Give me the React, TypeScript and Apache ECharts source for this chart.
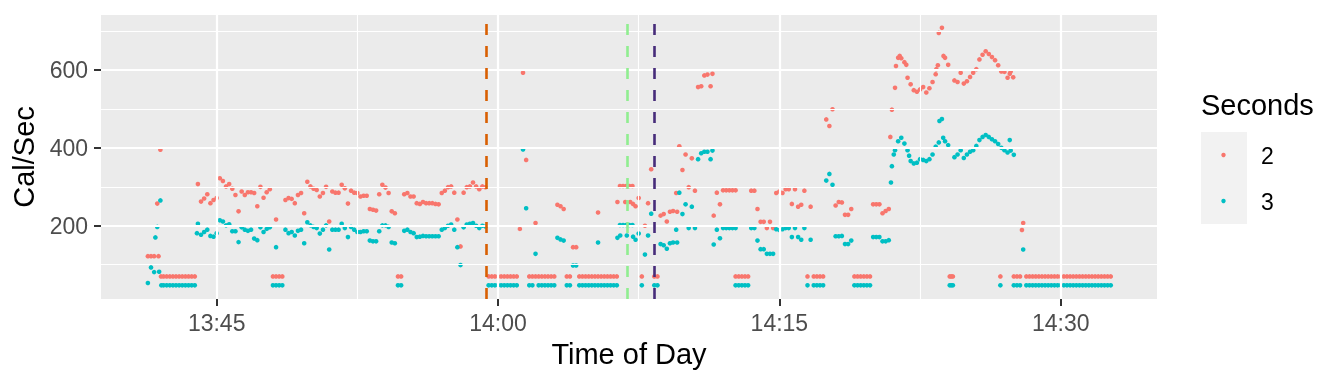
import React, { useEffect, useRef } from "react";
import * as echarts from "echarts";

// ---------------- data ----------------
// Regular samples every 10 s starting at START (null = no reading)
const START = "13:41:20";
const STEP_SEC = 10;

const seconds2: (number | null)[] = [
  122, 122, 122, 257, 395, 70, 70, 70, 70, 70,
  70, 70, 70, 70, 70, 70, 307, 262, 270, 281,
  258, 266, 271, 322, 315, 301, 307, 295, 279, 237,
  288, 279, 286, 286, 284, 250, 300, 272, 286, 294,
  70, 70, 70, 70, 266, 271, 269, 258, 279, 284,
  232, 313, 301, 295, 292, 275, 284, 300, 211, 288,
  285, 285, 305, 296, 257, 290, 285, 284, 275, 277,
  277, 243, 241, 239, 281, 305, 298, 284, 237, 232,
  70, 70, 281, 284, 275, 275, 258, 256, 261, 258,
  258, 258, 256, 255, 284, 290, 299, 301, 285, 216,
  147, 285, 299, 301, 311, 301, 294, 301, 299, 70,
  70, 70, 70, 70, 70, 70, 70, 70, 70, 192,
  593, 369, 70, 70, 70, 70, 70, 70, 70, 70,
  70, 254, 250, 243, 70, 70, 145, 145, 70, 70,
  70, 70, 70, 70, 234, 70, 70, 70, 70, 70,
  70, 302, 302, 302, 302, 302, 250, 271, 70, 200,
  258, 345, 70, 70, 226, 230, 211, 236, 238, 284,
  404, 343, 383, 299, 373, 290, 556, 558, 586, 588,
  558, 226, 285, 255, 291, 291, 291, 291, 291, 70,
  70, 70, 70, 290, 290, 243, 210, 210, 194, 210,
  194, 284, 288, 284, 294, 294, 256, 294, 249, 254,
  290, 70, 249, 70, 70, 70, 70, 473, 456, 499,
  252, 261, 260, 228, 228, 243, 70, 70, 70, 70,
  70, 70, 255, 255, 255, 232, 238, 243, 498, 554,
  631, 630, 620, 580, 563, 548, 544, 550, 556, 542,
  553, 569, 589, 695, 708, 631, 613, 70, 573, 569,
  593, 565, 571, 582, 593, 602, 627, 639, 648, 641,
  633, 625, 612, 596, 595, 580, 596, 70, 70, 70,
  207, 70, 70, 70, 70, 70, 70, 70, 70, 70,
  70, 70, 70, 70, 70, 70, 70, 70, 70, 70,
  70, 70, 70, 70, 70, 70, 70, 70, 70,
];

const seconds3: (number | null)[] = [
  53, 93, 81, 197, 265, 47, 47, 47, 47, 47,
  47, 47, 47, 47, 47, 47, 205, 177, 184, 190,
  174, 172, 181, 214, 211, 201, 204, 186, 186, 158,
  196, 190, 187, 190, 167, 163, 196, 184, 192, 196,
  47, 47, 47, 47, 190, 181, 184, 175, 187, 190,
  155, 209, 201, 197, 194, 180, 190, 201, 139, 190,
  190, 190, 205, 194, 171, 197, 190, 184, 184, 186,
  186, 162, 160, 160, 186, 201, 201, 197, 157, 155,
  47, 47, 187, 190, 184, 181, 171, 172, 174, 173,
  173, 173, 173, 173, 190, 194, 200, 203, 190, 145,
  99, 196, 203, 205, 207, 200, 194, 200, 198, 47,
  47, 47, 47, 47, 47, 47, 47, 47, 47, null,
  396, 245, 47, 47, 128, 47, 47, 47, 47, 47,
  47, 169, 165, 162, 47, 47, 98, 98, 47, 47,
  47, 47, 47, 47, 157, 47, 47, 47, 47, 47,
  47, 202, 202, 202, 202, 202, 164, 180, 47, 126,
  175, 231, 47, 47, 153, 150, 141, 155, 157, 190,
  285, 230, 255, 194, 249, 194, 371, 386, 390, 390,
  371, 152, 190, 168, 194, 194, 194, 194, 194, 47,
  47, 47, 47, 194, 194, 162, 140, 140, 128, 128,
  128, 191, 189, 191, 194, 194, 171, 194, 171, 164,
  194, 47, 164, 47, 47, 47, 47, 316, 333, 305,
  173, 173, 174, 153, 153, 162, 47, 47, 47, 47,
  47, 47, 171, 171, 171, 160, 160, 163, 353, 394,
  417, 426, 411, 394, 366, 360, 362, 371, 369, 366,
  371, 383, 403, 414, 474, 417, 407, 47, 376, 383,
  394, 374, 383, 390, 394, 405, 420, 428, 433, 428,
  422, 417, 410, 400, 394, 388, 393, 382, 47, 47,
  139, 47, 47, 47, 47, 47, 47, 47, 47, 47,
  47, 47, 47, 47, 47, 47, 47, 47, 47, 47,
  47, 47, 47, 47, 47, 47, 47, 47, 47,
];

// Additional readings between the regular samples
const seconds2Extra: [string, number][] = [
  ["13:41:54", 122], ["13:42:02", 70], ["13:48:10", 216], ["14:02:00", 207],
  ["14:05:20", 70], ["14:06:22", 261], ["14:06:47", 261], ["14:07:03", 261],
  ["14:07:12", 256], ["14:09:33", 236], ["14:11:26", 590], ["14:12:40", 70],
  ["14:20:55", 428], ["14:21:13", 610], ["14:21:25", 636], ["14:21:46", 613],
  ["14:23:22", 602], ["14:23:27", 612], ["14:23:45", 636], ["14:24:05", 70],
  ["14:24:15", 70], ["14:26:47", 70], ["14:27:17", 590], ["14:27:28", 581],
  ["14:27:56", 189],
];
const seconds3Extra: [string, number][] = [
  ["13:41:44", 170], ["13:41:56", 82], ["13:42:03", 47], ["13:43:57", 181],
  ["13:48:10", 145], ["14:05:20", 47], ["14:06:22", 169], ["14:06:31", 175],
  ["14:06:52", 175], ["14:07:12", 172], ["14:09:33", 157], ["14:11:26", 393],
  ["14:12:40", 47], ["14:20:57", 311], ["14:21:06", 383], ["14:21:55", 380],
  ["14:23:32", 469], ["14:23:44", 426], ["14:24:05", 47], ["14:24:15", 47],
  ["14:26:47", 47], ["14:27:17", 420], ["14:27:30", 47],
];

const X_RANGE = ["13:38:50", "14:35:08"];
const Y_RANGE = [12, 741];
const X_TICKS = ["13:45", "14:00", "14:15", "14:30"];
const X_MINOR = ["13:52:30", "14:07:30", "14:22:30"];
const Y_TICKS = [200, 400, 600];
const Y_MINOR = [100, 300, 500, 700];
const EVENT_TIMES = ["13:59:23", "14:06:53", "14:08:21"];
const EVENT_COLORS = ["#D95F02", "#90EE90", "#472C7A"];
const LEGEND_LABELS = ["2", "3"];
const COLORS = ["#F8766D", "#00BFC4"];

// ---------------- helpers ----------------
function toSec(s: string): number {
  const p = s.split(":").map(Number);
  return p[0] * 3600 + p[1] * 60 + (p[2] || 0);
}
function fmt(sec: number): string {
  const h = Math.floor(sec / 3600);
  const m = Math.floor((sec % 3600) / 60);
  return `${h}:${String(m).padStart(2, "0")}`;
}
function buildSeries(vals: (number | null)[], extra: [string, number][]) {
  const t0 = toSec(START);
  const out: [number, number][] = [];
  vals.forEach((v, i) => {
    if (v !== null) out.push([t0 + i * STEP_SEC, v]);
  });
  extra.forEach(([t, v]) => out.push([toSec(t), v]));
  return out;
}

const FONT = "'Liberation Sans', Arial, Helvetica, sans-serif";

export default function App() {
  const ref = useRef<HTMLDivElement>(null);
  useEffect(() => {
    if (!ref.current) return;
    const chart = echarts.init(ref.current, undefined, { renderer: "svg" });
    const xTickVals = X_TICKS.map(toSec);
    const major = "#FFFFFF";
    const gridLines = [
      ...xTickVals.map((v) => ({ xAxis: v, lineStyle: { width: 2.2, color: major, type: "solid" } })),
      ...X_MINOR.map((t) => ({ xAxis: toSec(t), lineStyle: { width: 1.1, color: major, type: "solid" } })),
      ...Y_TICKS.map((v) => ({ yAxis: v, lineStyle: { width: 2.2, color: major, type: "solid" } })),
      ...Y_MINOR.map((v) => ({ yAxis: v, lineStyle: { width: 1.1, color: major, type: "solid" } })),
    ];
    const eventLines = EVENT_TIMES.map((t, i) => ({
      xAxis: toSec(t),
      lineStyle: { width: 2.6, color: EVENT_COLORS[i], type: [11, 11] },
    }));

    const option: any = {
      animation: false,
      textStyle: { fontFamily: FONT },
      grid: {
        left: 101,
        top: 15,
        width: 1056,
        height: 284,
        show: true,
        backgroundColor: "#EBEBEB",
        borderWidth: 0,
      },
      xAxis: {
        type: "value",
        min: toSec(X_RANGE[0]),
        max: toSec(X_RANGE[1]),
        name: "Time of Day",
        nameLocation: "middle",
        nameGap: 40,
        nameTextStyle: { fontSize: 29, color: "#000000", fontFamily: FONT },
        axisLine: { show: false },
        splitLine: { show: false },
        axisTick: {
          show: true,
          length: 7,
          lineStyle: { color: "#333333", width: 2 },
          customValues: xTickVals,
        },
        axisLabel: {
          customValues: xTickVals,
          formatter: (v: number) => fmt(v),
          color: "#4D4D4D",
          fontSize: 23,
          margin: 12,
          fontFamily: FONT,
        },
      },
      yAxis: {
        type: "value",
        min: Y_RANGE[0],
        max: Y_RANGE[1],
        name: "Cal/Sec",
        nameLocation: "middle",
        nameGap: 56,
        nameTextStyle: { fontSize: 29, color: "#000000", fontFamily: FONT },
        axisLine: { show: false },
        splitLine: { show: false },
        axisTick: {
          show: true,
          length: 7,
          lineStyle: { color: "#333333", width: 2 },
          customValues: Y_TICKS,
        },
        axisLabel: {
          customValues: Y_TICKS,
          color: "#4D4D4D",
          fontSize: 23,
          margin: 13,
          fontFamily: FONT,
        },
      },
      series: [
        {
          type: "scatter",
          data: [],
          silent: true,
          z: 1,
          markLine: {
            silent: true,
            symbol: ["none", "none"],
            label: { show: false },
            animation: false,
            emphasis: { disabled: true },
            data: gridLines,
          },
        },
        {
          name: LEGEND_LABELS[0],
          type: "scatter",
          data: buildSeries(seconds2, seconds2Extra),
          symbolSize: 4.6,
          itemStyle: { color: COLORS[0], opacity: 1 },
          z: 2,
        },
        {
          name: LEGEND_LABELS[1],
          type: "scatter",
          data: buildSeries(seconds3, seconds3Extra),
          symbolSize: 4.6,
          itemStyle: { color: COLORS[1], opacity: 1 },
          z: 2,
        },
        {
          type: "scatter",
          data: [],
          silent: true,
          z: 3,
          markLine: {
            silent: true,
            symbol: ["none", "none"],
            label: { show: false },
            animation: false,
            emphasis: { disabled: true },
            data: eventLines,
          },
        },
      ],
      graphic: [
        {
          type: "text",
          left: 1201,
          top: 90,
          style: { text: "Seconds", fontSize: 29, fill: "#000000", fontFamily: FONT },
        },
        {
          type: "rect",
          shape: { x: 1201, y: 132, width: 46, height: 92 },
          style: { fill: "#F2F2F2" },
        },
        ...LEGEND_LABELS.flatMap((lab, i) => [
          {
            type: "circle",
            shape: { cx: 1223.5, cy: 155 + i * 46, r: 2.2 },
            style: { fill: COLORS[i] },
          },
          {
            type: "text",
            x: 1261,
            y: 156 + i * 46,
            style: {
              text: lab,
              fontSize: 23,
              fill: "#000000",
              fontFamily: FONT,
              verticalAlign: "middle",
            },
          },
        ]),
      ],
    };
    chart.setOption(option);
    return () => chart.dispose();
  }, []);
  return (
    <div
      ref={ref}
      style={{ position: "fixed", left: 0, top: 0, width: 1344, height: 384 }}
    />
  );
}
